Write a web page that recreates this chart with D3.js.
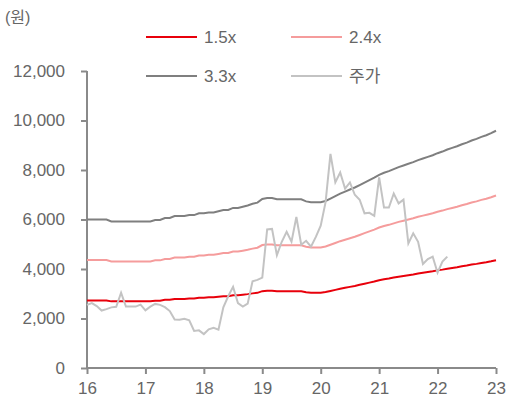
<!DOCTYPE html>
<html>
<head>
<meta charset="utf-8">
<script src="https://cdn.jsdelivr.net/npm/d3@7"></script>
<style>
  body { margin: 0; background: #fff; }
  svg { font-family: "Liberation Sans", "Noto Sans CJK KR", sans-serif; }
</style>
</head>
<body>
<div id="chart"></div>
<script>
// monthly, Jan 2016 .. Jan 2023 (BPS in won)
var bps = [
  1818,1818,1818,1818,1818,1795,1795,1795,1795,1795,1795,1795,
  1795,1795,1812,1812,1836,1836,1860,1860,1860,1872,1872,1895,
  1895,1905,1905,1920,1935,1935,1960,1960,1975,1990,2010,2025,
  2070,2080,2080,2065,2065,2065,2065,2065,2065,2040,2030,2030,
  2030,2045,2075,2105,2135,2160,2185,2210,2240,2270,2300,2330,
  2365,2390,2410,2435,2460,2480,2500,2520,2545,2565,2585,2605,
  2630,2650,2675,2695,2715,2740,2760,2785,2805,2830,2850,2875,
  2905
];
var multiples = [1.5, 2.4, 3.3];
var bandNames = ['1.5x', '2.4x', '3.3x'];
var bandColors = ['#e8000b', '#f59c9c', '#7f7f7f'];

// monthly stock price, Jan 2016 .. Mar 2022
var price = [
  2550,2620,2500,2320,2380,2450,2470,3040,2480,2480,2480,2560,
  2330,2480,2590,2550,2460,2300,1960,1950,1990,1930,1500,1520,
  1370,1560,1620,1550,2450,2900,3280,2620,2480,2600,3500,3560,
  3650,5600,5620,4560,5100,5500,5100,6100,4980,5140,4900,5300,
  5750,6700,8650,7500,7900,7250,7500,7000,6800,6250,6270,6150,
  7700,6480,6480,7050,6650,6800,5030,5440,5100,4200,4400,4500,
  3850,4300,4500
];
var priceName = '주가';
var priceColor = '#c3c3c3';

var yTicks = [0, 2000, 4000, 6000, 8000, 10000, 12000];
var xTicks = [2016, 2017, 2018, 2019, 2020, 2021, 2022, 2023];
var xTickLabels = ['16', '17', '18', '19', '20', '21', '22', '23'];

var W = 509, H = 399;
var axisColor = '#8a8a8a';
var textColor = '#666666';
var fontSize = '17px';

var svg = d3.select('#chart').append('svg')
  .attr('width', W).attr('height', H);

var x = d3.scaleLinear().domain([2016, 2023]).range([87, 496]);
var y = d3.scaleLinear().domain([0, 12000]).range([368, 71]);

var monthX = function(i) { return 2016 + i / 12; };

// axes
var yAxis = d3.axisLeft(y).tickValues(yTicks).tickSize(6).tickPadding(16)
  .tickFormat(d3.format(','));
var gy = svg.append('g').attr('transform', 'translate(87,0)').call(yAxis);
gy.select('.domain').attr('stroke', axisColor).attr('stroke-width', 2)
  .attr('d', 'M0,' + y(12000) + 'V' + y(0));
gy.selectAll('.tick line').attr('stroke', axisColor).attr('stroke-width', 2);
gy.selectAll('.tick text').attr('fill', textColor).style('font-size', fontSize);

var xAxis = d3.axisBottom(x).tickValues(xTicks).tickSize(6).tickPadding(8)
  .tickFormat(function(d, i) { return xTickLabels[i]; });
var gx = svg.append('g').attr('transform', 'translate(0,368)').call(xAxis);
gx.select('.domain').attr('stroke', axisColor).attr('stroke-width', 2)
  .attr('d', 'M' + x(2016) + ',0H' + x(2023));
gx.selectAll('.tick line').attr('stroke', axisColor).attr('stroke-width', 2);
gx.selectAll('.tick text').attr('fill', textColor).style('font-size', fontSize);

// lines
var line = d3.line()
  .x(function(d) { return x(d[0]); })
  .y(function(d) { return y(d[1]); });

multiples.forEach(function(m, k) {
  var pts = bps.map(function(b, i) { return [monthX(i), b * m]; });
  svg.append('path').datum(pts)
    .attr('fill', 'none')
    .attr('stroke', bandColors[k])
    .attr('stroke-width', 2)
    .attr('d', line);
});

svg.append('path')
  .datum(price.map(function(p, i) { return [monthX(i), p]; }))
  .attr('fill', 'none')
  .attr('stroke', priceColor)
  .attr('stroke-width', 2)
  .attr('d', line);

// unit label
svg.append('text').attr('x', 5).attr('y', 17).attr('dy', '0.35em')
  .attr('fill', textColor).style('font-size', '16px').text('(원)');

// legend
var legend = [
  { name: bandNames[0], color: bandColors[0], lx: 146, ly: 37 },
  { name: bandNames[1], color: bandColors[1], lx: 291, ly: 37 },
  { name: bandNames[2], color: bandColors[2], lx: 146, ly: 76 },
  { name: priceName, color: priceColor, lx: 291, ly: 76 }
];
var lg = svg.append('g').selectAll('g').data(legend).join('g')
  .attr('transform', function(d) { return 'translate(' + d.lx + ',' + d.ly + ')'; });
lg.append('line').attr('x1', 0).attr('x2', 51).attr('y1', 0).attr('y2', 0)
  .attr('stroke', function(d) { return d.color; }).attr('stroke-width', 2);
lg.append('text').attr('x', 58).attr('y', 0).attr('dy', '0.35em')
  .attr('fill', textColor).style('font-size', fontSize)
  .text(function(d) { return d.name; });
</script>
</body>
</html>
